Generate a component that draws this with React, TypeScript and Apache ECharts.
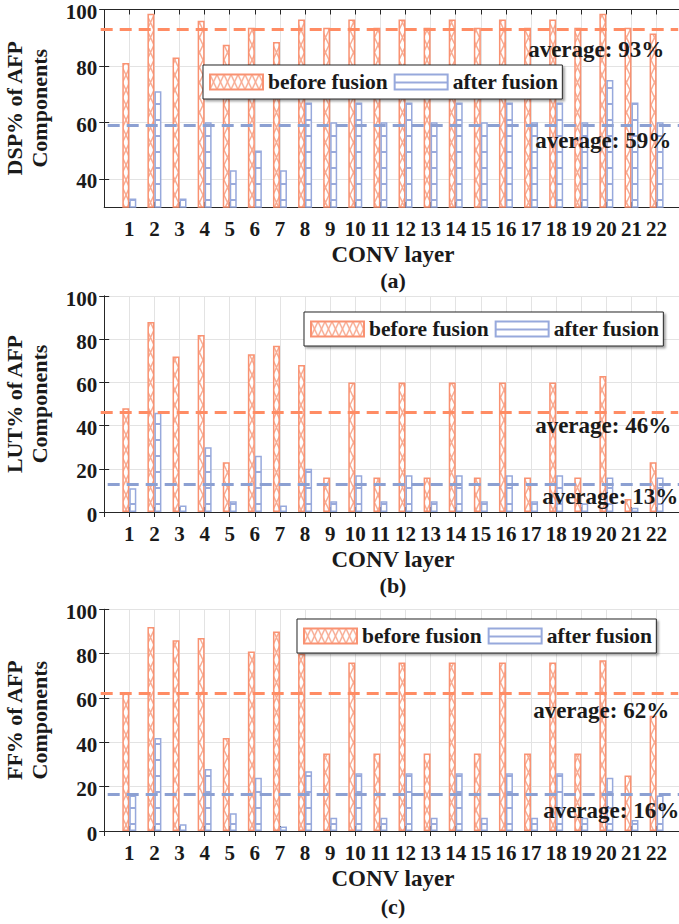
import React, { useEffect, useRef } from 'react';
import * as echarts from 'echarts';

// ---------- data ----------
const layers = [1, 2, 3, 4, 5, 6, 7, 8, 9, 10, 11, 12, 13, 14, 15, 16, 17, 18, 19, 20, 21, 22];

const dspBefore = [81, 98.5, 83, 96, 87.5, 93.5, 88.5, 96.5, 93.5, 96.5, 93.5, 96.5, 93.5, 96.5, 93.5, 96.5, 93.5, 96.5, 93.5, 98.5, 93.5, 91.5];
const dspAfter = [33, 71, 33, 60, 43, 50, 43, 67, 60, 67, 60, 67, 60, 67, 60, 67, 60, 67, 60, 75, 67, 60];
const lutBefore = [48, 88, 72, 82, 23, 73, 77, 68, 16, 60, 16, 60, 16, 60, 16, 60, 16, 60, 16, 63, 6, 23];
const lutAfter = [11, 46, 3, 30, 5, 26, 3, 20, 5, 17, 5, 17, 5, 17, 5, 17, 5, 17, 4, 16, 2, 16];
const ffBefore = [62, 92, 86, 87, 42, 81, 90, 80, 35, 76, 35, 76, 35, 76, 35, 76, 35, 76, 35, 77, 25, 52];
const ffAfter = [16, 42, 3, 28, 8, 24, 2, 27, 6, 26, 6, 26, 6, 26, 6, 26, 6, 26, 6, 24, 5, 16];

const avgBefore = [93, 46, 62];
const avgAfter = [59, 13, 16.4];

const yTicksA = [40, 60, 80, 100];
const yTicksBC = [0, 20, 40, 60, 80, 100];

const yNames = ['DSP% of AFP\nComponents', 'LUT% of AFP\nComponents', 'FF% of AFP\nComponents'];
const panelTags = ['(a)', '(b)', '(c)'];
const seriesNames = ['before fusion', 'after fusion'];

// ---------- styles ----------
const FONT = "'Liberation Serif', 'Times New Roman', serif";
const TXT = '#1a1a1a';
const ORANGE = '#ff8c64';
const BLUE = '#8ca0d2';
const ORANGE_EDGE = '#f99272';
const BLUE_EDGE = '#97a9dc';

const svgUrl = (s: string) => 'data:image/svg+xml;charset=utf-8,' + encodeURIComponent(s);

const beforePattern = {
  image: svgUrl(
    "<svg xmlns='http://www.w3.org/2000/svg' width='7' height='15'><rect width='7' height='15' fill='#ffffff'/><path d='M0 0L7 15M7 0L0 15' stroke='#f8ab92' stroke-width='1.4' fill='none'/></svg>"
  ),
  imageWidth: 7,
  imageHeight: 15,
  repeat: 'repeat',
};
const afterPattern = {
  image: svgUrl(
    "<svg xmlns='http://www.w3.org/2000/svg' width='8' height='16'><rect width='8' height='16' fill='#ffffff'/><rect y='7' width='8' height='2' fill='#9aaadc'/></svg>"
  ),
  imageWidth: 8,
  imageHeight: 16,
  repeat: 'repeat',
};

const grids = [
  { top: 9.5, height: 197.5, ymin: 30, ymax: 100, ticks: yTicksA },
  { top: 296, height: 216, ymin: 0, ymax: 100, ticks: yTicksBC },
  { top: 609.3, height: 221.7, ymin: 0, ymax: 100, ticks: yTicksBC },
];

const legendPos = [
  { left: 203, top: 65 },
  { left: 304, top: 312 },
  { left: 297, top: 619 },
];

const avgLabelDist = [
  [[14, 9], [14, 4]],
  [[7, 1], [7, 1]],
  [[9, 5], [6, 4]],
];

const tagY = [280, 585, 906];

function buildOption() {
  const panels = [
    [dspBefore, dspAfter],
    [lutBefore, lutAfter],
    [ffBefore, ffAfter],
  ];
  const boldText = (size: number) => ({ fontFamily: FONT, fontWeight: 'bold' as const, fontSize: size, color: TXT });

  const grid = grids.map((g) => ({
    left: 104.2,
    top: g.top,
    width: 577.5,
    height: g.height,
    outerBoundsMode: 'none',
    containLabel: false,
  }));
  const xAxis: any[] = [];
  const yAxis: any[] = [];
  const series: any[] = [];
  const legend: any[] = [];
  const graphic: any[] = [];

  grids.forEach((g, i) => {
    xAxis.push({
      type: 'value',
      gridIndex: i,
      position: 'bottom',
      min: 0,
      max: 23,
      interval: 1,
      axisLine: { show: true, lineStyle: { color: '#262626', width: 1 } },
      axisTick: { show: true, inside: true, length: 5, lineStyle: { color: '#262626' } },
      axisLabel: {
        ...boldText(21),
        margin: 11,
        formatter: (v: number) => (layers.includes(v) ? String(v) : ''),
      },
      splitLine: { show: true, lineStyle: { color: '#e3e3e3', width: 1 } },
      name: 'CONV layer',
      nameLocation: 'middle',
      nameGap: 36,
      nameTextStyle: boldText(23),
    });
    xAxis.push({
      type: 'value',
      gridIndex: i,
      position: 'top',
      min: 0,
      max: 23,
      interval: 1,
      axisLine: { show: true, lineStyle: { color: '#262626', width: 1 } },
      axisTick: { show: true, inside: true, length: 5, lineStyle: { color: '#262626' } },
      axisLabel: { show: false },
      splitLine: { show: false },
    });
    yAxis.push({
      type: 'value',
      gridIndex: i,
      position: 'left',
      min: g.ymin,
      max: g.ymax,
      axisLine: { show: true, lineStyle: { color: '#262626', width: 1 } },
      axisTick: { show: true, inside: true, length: 5, customValues: g.ticks, lineStyle: { color: '#262626' } },
      axisLabel: {
        margin: 7,
        customValues: g.ticks,
        formatter: (v: number) => `{v|${v}}`,
        rich: { v: { ...boldText(21), lineHeight: 17, padding: [5, 0, 0, 0] } },
      },
      splitLine: { show: true, lineStyle: { color: '#e3e3e3', width: 1 } },
      name: yNames[i],
      nameLocation: 'middle',
      nameRotate: 90,
      nameGap: 52,
      nameTextStyle: { ...boldText(22), lineHeight: 25 },
    });
    yAxis.push({
      type: 'value',
      gridIndex: i,
      position: 'right',
      min: g.ymin,
      max: g.ymax,
      axisLine: { show: true, lineStyle: { color: '#262626', width: 1 } },
      axisTick: { show: true, inside: true, length: 5, customValues: g.ticks, lineStyle: { color: '#262626' } },
      axisLabel: { show: false },
      splitLine: { show: false },
    });

    const [bef, aft] = panels[i];
    const mk = (avg: number, color: string, dist: number[]) => ({
      silent: true,
      symbol: ['none', 'none'],
      lineStyle: { color, width: 3, type: [12, 7], opacity: 1 },
      label: {
        show: true,
        position: 'insideEndBottom',
        distance: dist,
        formatter: 'average: ' + Math.round(avg) + '%',
        ...boldText(23),
      },
      emphasis: { disabled: true },
      data: [[{ coord: [0, avg] }, { coord: [23, avg] }]],
    });

    series.push({
      type: 'bar',
      name: seriesNames[0],
      xAxisIndex: 2 * i,
      yAxisIndex: 2 * i,
      data: layers.map((l, k) => [l, bef[k]]),
      barWidth: 7,
      itemStyle: { color: beforePattern, borderColor: ORANGE_EDGE, borderWidth: 1.5 },
      markLine: mk(avgBefore[i], ORANGE, avgLabelDist[i][0]),
    });
    series.push({
      type: 'bar',
      name: seriesNames[1],
      xAxisIndex: 2 * i,
      yAxisIndex: 2 * i,
      data: layers.map((l, k) => [l, aft[k]]),
      barWidth: 7,
      barGap: '0%',
      itemStyle: { color: afterPattern, borderColor: BLUE_EDGE, borderWidth: 1.5 },
      markLine: mk(avgAfter[i], BLUE, avgLabelDist[i][1]),
    });

    legend.push({
      data: seriesNames,
      left: legendPos[i].left,
      top: legendPos[i].top,
      orient: 'horizontal',
      itemWidth: 53,
      itemHeight: 15,
      itemGap: 6,
      padding: [6, 4, 6, 6],
      backgroundColor: '#ffffff',
      borderColor: '#262626',
      borderWidth: 1,
      shadowColor: 'rgba(0,0,0,0.35)',
      shadowBlur: 2,
      shadowOffsetX: 2,
      shadowOffsetY: 2,
      icon: 'rect',
      selectedMode: false,
      textStyle: boldText(21.5),
    });

    graphic.push({
      type: 'text',
      x: 393,
      y: tagY[i],
      style: {
        text: panelTags[i],
        align: 'center',
        verticalAlign: 'middle',
        font: `bold 22px ${FONT}`,
        fill: TXT,
      },
    });
  });

  return {
    animation: false,
    backgroundColor: '#ffffff',
    grid,
    xAxis,
    yAxis,
    series,
    legend,
    graphic,
  };
}

export default function App() {
  const ref = useRef<HTMLDivElement>(null);
  useEffect(() => {
    if (!ref.current) return;
    const chart = echarts.init(ref.current, null, { renderer: 'svg' });
    chart.setOption(buildOption() as any);
    return () => chart.dispose();
  }, []);
  return (
    <div
      ref={ref}
      style={{ position: 'absolute', left: 0, top: 0, width: 679, height: 924, background: '#fff' }}
    />
  );
}
